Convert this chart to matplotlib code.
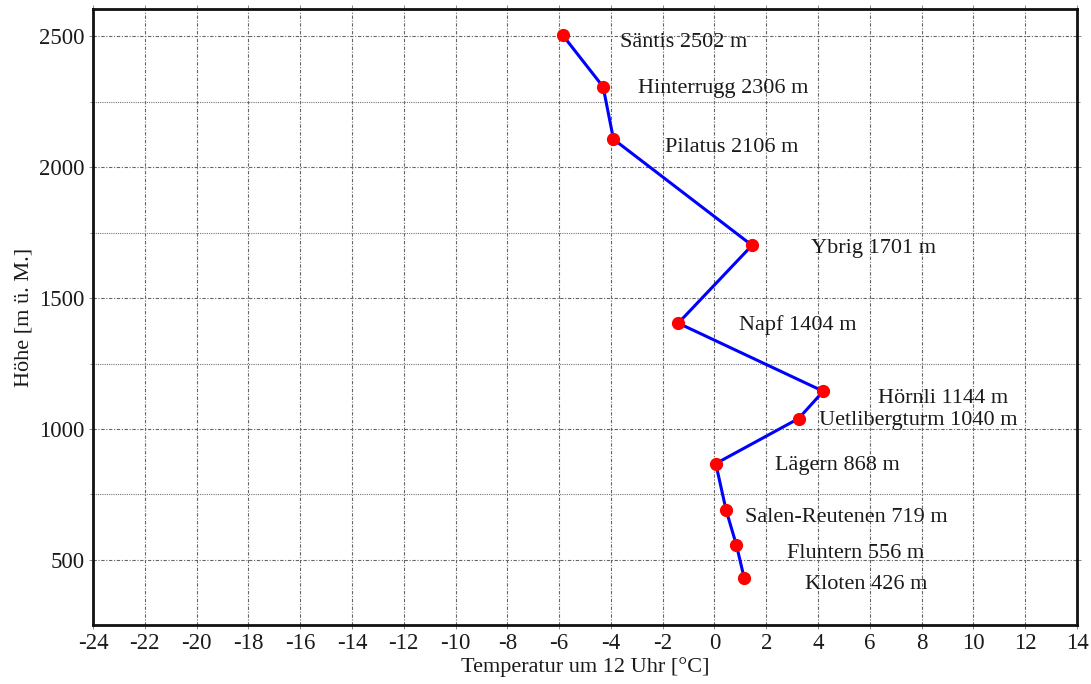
import numpy as np
import matplotlib.pyplot as plt
from matplotlib.ticker import MultipleLocator

# station data
stations = ['Säntis', 'Hinterrugg', 'Pilatus', 'Ybrig', 'Napf', 'Hörnli',
            'Uetlibergturm', 'Lägern', 'Salen-Reutenen', 'Fluntern', 'Kloten']
station_height = [2502, 2306, 2106, 1701, 1404, 1144, 1040, 868, 719, 556, 426]
# heights where the points are drawn (Salen-Reutenen sits lower than its label)
altitude = [2502, 2306, 2106, 1701, 1404, 1144, 1040, 868, 690, 556, 430]
temperature = [-5.85, -4.3, -3.9, 1.45, -1.4, 4.2, 3.25, 0.05, 0.45, 0.85, 1.15]

# label offsets in pixels (dx right, dy down)
label_dx = [57, 35, 52, 59, 61, 55, 20, 59, 19, 51, 61]
label_dy = [7, 2, 8, 3, 2, 7, 2, 2, 7, 8, 6]

plt.rcParams['font.family'] = ['Liberation Serif', 'DejaVu Serif']
plt.rcParams['axes.unicode_minus'] = False

fig = plt.figure(figsize=(10.91, 6.84), dpi=100)
ax = fig.add_axes([0.0852, 0.0863, 0.902, 0.9005])

ax.plot(temperature, altitude, color='#0000ff', linewidth=2.2, zorder=3)
ax.plot(temperature, altitude, 'o', color='#ff0000', markersize=8.5, zorder=4)

px = 72 / fig.dpi
for name, t, h, hl, dx, dy in zip(stations, temperature, altitude, station_height,
                                  label_dx, label_dy):
    ax.annotate(f'{name} {hl} m', (t, h), xytext=(dx * px, -dy * px),
                textcoords='offset points', ha='left', va='center',
                fontsize=16, color='#1a1a1a')

ax.set_xlim(-24, 14)
ax.set_ylim(252, 2603)
ax.xaxis.set_major_locator(MultipleLocator(2))
ax.yaxis.set_major_locator(MultipleLocator(500))
ax.yaxis.set_minor_locator(MultipleLocator(250))

ax.grid(True, which='major', linestyle=(0, (3, 1.5, 1, 1.5)), color='#666666', linewidth=0.8)
ax.grid(True, which='minor', axis='y', linestyle=(0, (1, 1)), color='#777777', linewidth=0.8)

ax.tick_params(which='both', direction='out', top=True, right=True,
               labelsize=16.5, length=3, width=0.6, color='#777777', pad=3,
               labelcolor='#1a1a1a')
ax.tick_params(which='minor', length=2)

for s in ax.spines.values():
    s.set_linewidth(2)
    s.set_color('#111111')

ax.set_xlabel('Temperatur um 12 Uhr [°C]', fontsize=16, labelpad=2, color='#1a1a1a')
ax.set_ylabel('Höhe [m ü. M.]', fontsize=16, labelpad=4, color='#1a1a1a')

fig.savefig('out.png', dpi=100)
